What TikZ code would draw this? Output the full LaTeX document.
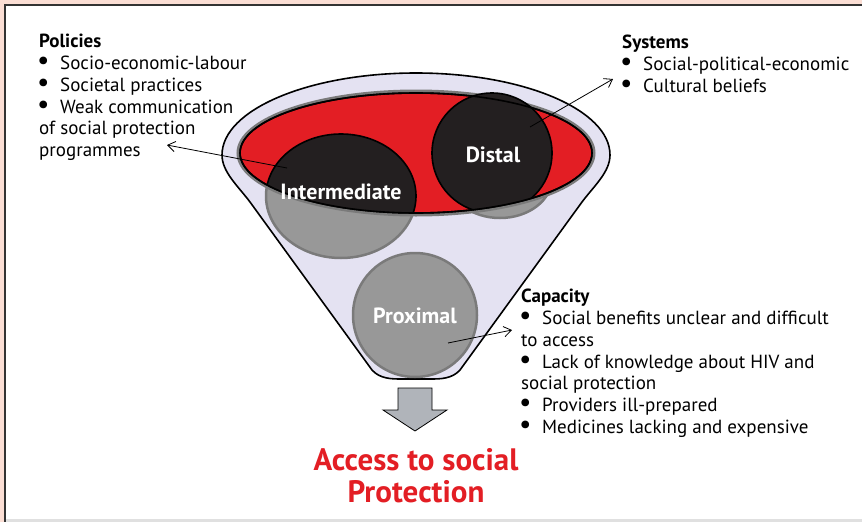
\documentclass[tikz,border=0pt]{standalone}
\usepackage{fontspec}
\setmainfont{PT Sans}
\usetikzlibrary{arrows.meta}

\definecolor{rim}{RGB}{251,222,212}
\definecolor{funnelfill}{RGB}{228,226,242}
\definecolor{planered}{RGB}{227,30,36}
\definecolor{ballgray}{RGB}{152,152,152}
\definecolor{ballrim}{RGB}{122,122,122}
\definecolor{ballblack}{RGB}{35,31,32}
\definecolor{arrowgray}{RGB}{176,180,186}

\tikzset{
  txt/.style  = {anchor=north west, align=left, inner sep=0pt,
                 font=\fontsize{19}{21.8}\selectfont},
  ball/.style = {fill=ballgray, draw=ballrim, line width=2.5pt},
  dark/.style = {fill=ballblack, draw=black, line width=1.6pt},
  tag/.style  = {text=white, inner sep=0pt, font=\fontsize{22}{24}\selectfont\bfseries},
  goal/.style = {text=planered, align=center, inner sep=0pt,
                 font=\fontsize{31}{32}\selectfont\bfseries},
  ar/.style   = {-{Straight Barb[length=2.6mm,width=3.6mm]}, line width=0.8pt}
}
\newcommand\bul{\makebox[21pt][l]{\kern-2pt\scalebox{1.45}{\textbullet}}}

\begin{document}
\begin{tikzpicture}[x=1pt, y=-1pt]
  \useasboundingbox (0,0) rectangle (862,522);
  % frame
  \fill[rim] (0,0) rectangle (862,522);
  \fill[white] (5,5) rectangle (862,519);
  \fill[black!12] (5,519) rectangle (862,522);
  \draw[black!80, line width=2pt] (4.5,522) -- (4.5,4.5) -- (862,4.5);

  % funnel body
  \draw[line width=1.6pt, fill=funnelfill]
    (372,370) -- (250,202) .. controls (238,186) and (222,172) .. (222,155)
    arc[start angle=180, end angle=360, x radius=194, y radius=82]
    .. controls (610,172) and (594,186) .. (582,202) -- (460,370)
    .. controls (452,379) and (440,379) .. (430,379) -- (402,379)
    .. controls (392,379) and (380,379) .. (372,370) -- cycle;

  % balls under the plane
  \draw[ball] (341,196) ellipse[x radius=75, y radius=62];
  \draw[ball] (500,178) ellipse[x radius=52, y radius=40];

  % red plane
  \draw[ballrim, line width=3pt] (416,153) ellipse[x radius=178, y radius=62];
  \draw[fill=planered, line width=1.6pt] (416,153) ellipse[x radius=176, y radius=60];

  % parts above the plane
  \begin{scope}
    \clip (416,153) ellipse[x radius=176, y radius=60];
    \draw[dark] (341,196) ellipse[x radius=75, y radius=62];
  \end{scope}
  \begin{scope}
    \clip (240,153) -- (240,0) -- (592,0) -- (592,153)
      arc[start angle=0, end angle=180, x radius=176, y radius=60] -- cycle;
    \draw[dark] (492,153) circle[radius=60];
  \end{scope}
  \draw[line width=1.6pt] (416,153) ellipse[x radius=176, y radius=60];

  \draw[ball] (415,315) circle[radius=62];

  \node[tag] (inter)  at (341,192) {Intermediate};
  \node[tag] (distal) at (493,155) {Distal};
  \node[tag] (prox)   at (415,316) {Proximal};

  % down arrow
  \draw[fill=arrowgray, line width=0.8pt]
    (398,388) -- (432,388) -- (432,410) -- (447,410) -- (415,431)
    -- (383,410) -- (398,410) -- cycle;

  \node[goal] (goal) at (416,476) {Access to social\\Protection};

  % factor lists
  \node[txt] (pol) at (39,34) {\textbf{Policies}\\
    \bul Socio-economic-labour\\
    \bul Societal practices\\
    \bul Weak communication\\
    of social protection\\
    programmes};
  \node[txt] (sys) at (622,35) {\textbf{Systems}\\
    \bul Social-political-economic\\
    \bul Cultural beliefs};
  \node[txt] (cap) at (521,289) {\textbf{Capacity}\\
    \bul Social benefits unclear and difficult\\
    to access\\
    \bul Lack of knowledge about HIV and\\
    social protection\\
    \bul Providers ill-prepared\\
    \bul Medicines lacking and expensive};

  \coordinate (inter-pin) at (287,168);
  \coordinate (distal-pin) at (530,127);
  \coordinate (prox-pin) at (448,343);
  \coordinate (pol-tip) at (167,145);
  \coordinate (sys-tip) at (613,79);
  \coordinate (cap-tip) at (512,330);
  \draw[ar] (inter-pin) -- (pol-tip);
  \draw[ar] (distal-pin) -- (sys-tip);
  \draw[ar] (prox-pin) -- (cap-tip);
\end{tikzpicture}
\end{document}
